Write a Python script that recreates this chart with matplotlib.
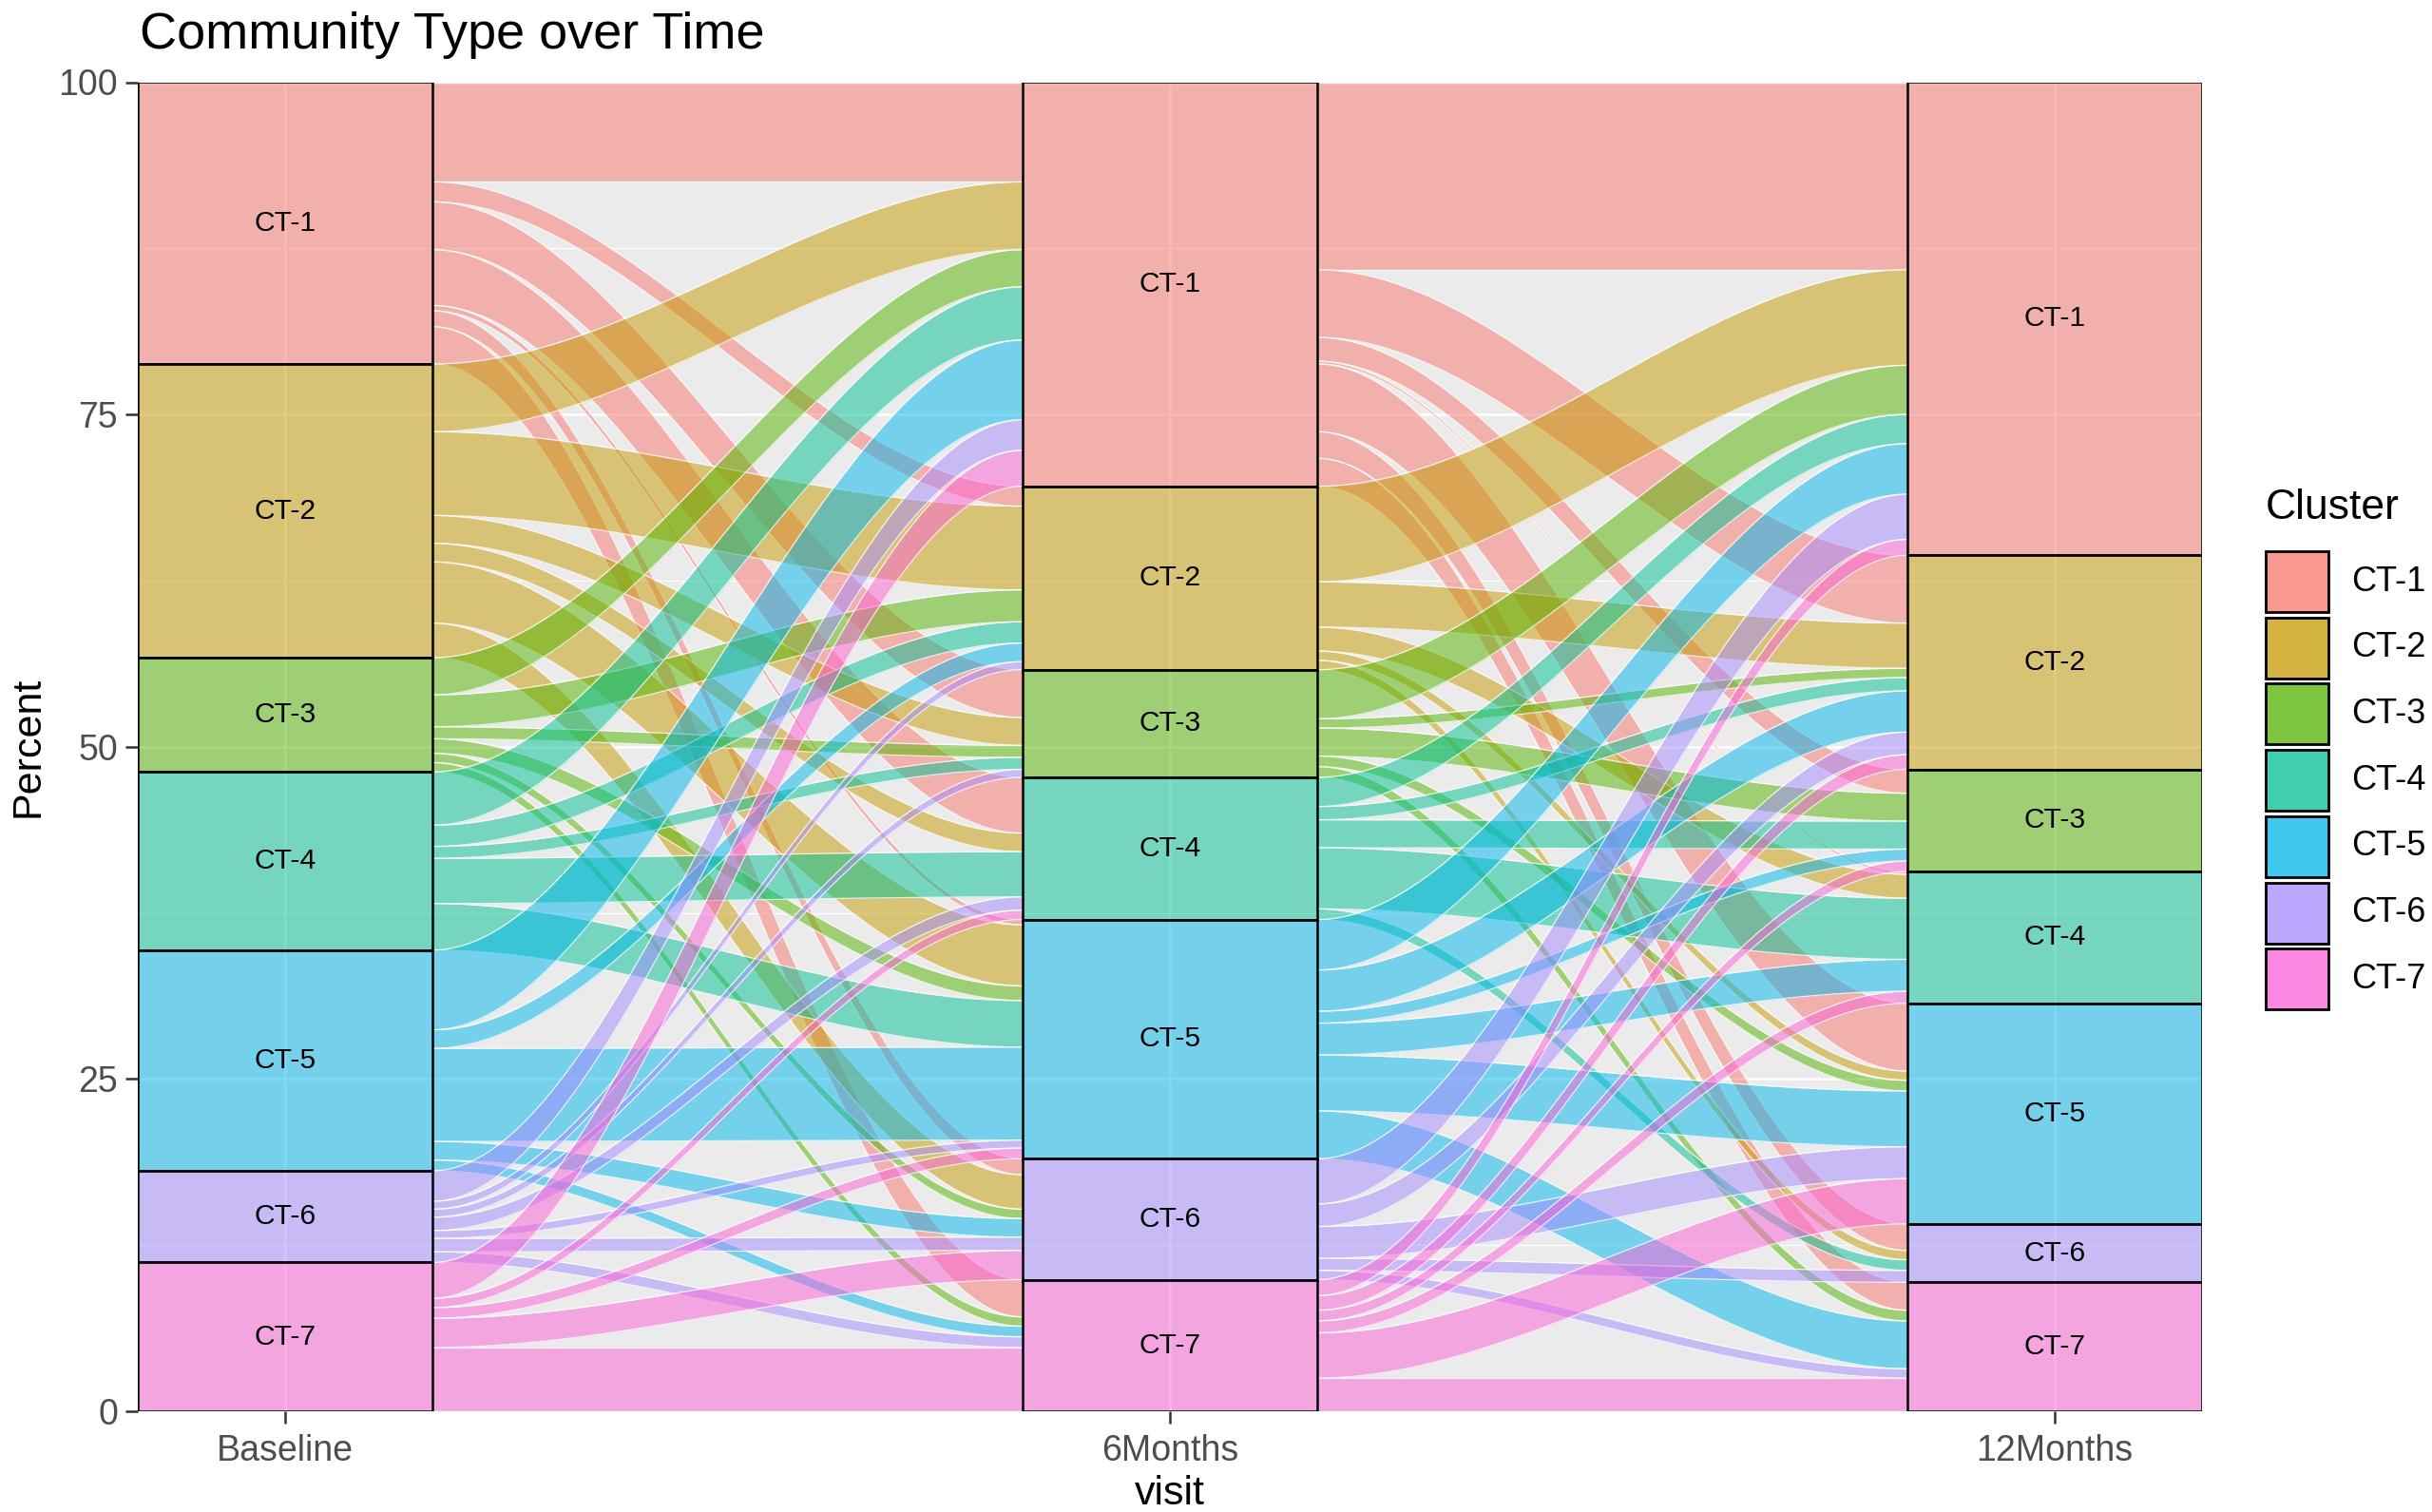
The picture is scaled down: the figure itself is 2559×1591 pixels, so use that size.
import numpy as np
import matplotlib.pyplot as plt
from matplotlib.patches import Rectangle
from matplotlib.colors import to_rgba

plt.rcParams['font.family'] = ['Liberation Sans', 'DejaVu Sans']

# Daten
clusters = ['CT-1', 'CT-2', 'CT-3', 'CT-4', 'CT-5', 'CT-6', 'CT-7']
visits = ['Baseline', '6Months', '12Months']
colors = ['#F8766D', '#C49A00', '#53B400', '#00C094', '#00B6EB', '#A58AFF', '#FB61D7']

# percent of subjects going from cluster (row) at Baseline to cluster (column) at 6Months
base_to_6m = [
    [7.5, 1.5, 3.6, 4.2, 0.4, 1.2, 2.8],
    [5.1, 6.3, 2.1, 1.4, 4.6, 2.6, 0.0],
    [2.8, 2.4, 0.9, 0.0, 1.1, 0.7, 0.7],
    [4.0, 1.6, 0.9, 3.4, 3.5, 0.0, 0.0],
    [6.0, 1.4, 0.0, 0.0, 7.0, 1.4, 0.8],
    [2.3, 0.6, 0.6, 1.0, 0.6, 1.0, 0.8],
    [2.7, 0.0, 0.0, 0.7, 0.8, 2.2, 4.8],
]
# percent of subjects going from cluster (row) at 6Months to cluster (column) at 12Months
m6_to_12m = [
    [14.1, 5.1, 1.8, 0.2, 5.1, 2.0, 2.1],
    [7.2, 3.4, 0.0, 1.8, 0.7, 0.7, 0.0],
    [3.7, 0.7, 2.1, 0.0, 0.8, 0.0, 0.8],
    [2.2, 1.0, 2.1, 4.6, 0.0, 0.8, 0.0],
    [3.8, 3.1, 0.9, 2.4, 4.2, 0.0, 3.6],
    [3.4, 1.7, 0.0, 0.0, 2.4, 0.9, 0.7],
    [1.2, 1.1, 0.8, 0.9, 3.4, 0.0, 2.5],
]

F1 = np.array(base_to_6m)
F2 = np.array(m6_to_12m)
stratum_sizes = [F1.sum(axis=1), F1.sum(axis=0), F2.sum(axis=0)]
half = 1 / 6  # halbe Stratum-Breite

W, H = 2559, 1591
fig = plt.figure(figsize=(W / 200, H / 200), dpi=200)
ax = fig.add_axes([145 / W, 1 - 1485 / H, (2317 - 145) / W, (1485 - 86.5) / H])
ax.set_facecolor('#EBEBEB')
ax.set_xlim(1 - half, 3 + half)
ax.set_ylim(0, 100)
for sp in ax.spines.values():
    sp.set_visible(False)

# Gitter
for y in [12.5, 37.5, 62.5, 87.5]:
    ax.axhline(y, color='white', lw=0.45, zorder=0)
for y in [0, 25, 50, 75, 100]:
    ax.axhline(y, color='white', lw=0.9, zorder=0)
for x in [1, 2, 3]:
    ax.axvline(x, color='white', lw=0.9, zorder=0)


def tops_of(sizes):
    return 100 - np.concatenate([[0], np.cumsum(sizes)[:-1]])


tt = np.linspace(0, 1, 200)
shape = 3 * tt**2 - 2 * tt**3


def draw_flows(F, xa, xb):
    top_left = tops_of(F.sum(axis=1))
    top_right = tops_of(F.sum(axis=0))
    x0, x1 = xa + half, xb - half
    xs = x0 + (x1 - x0) * tt
    n = F.shape[0]
    for i in range(n):
        for j in range(n):
            w = F[i, j]
            if w <= 0:
                continue
            yl = top_left[i] - F[i, :j].sum()
            yr = top_right[j] - F[:i, j].sum()
            top = yl + (yr - yl) * shape
            ax.fill_between(xs, top - w, top, color=colors[i], alpha=0.5, lw=0, zorder=1)
            ax.plot(xs, top, color='white', lw=0.45, alpha=0.8, zorder=1)
            ax.plot(xs, top - w, color='white', lw=0.45, alpha=0.8, zorder=1)


draw_flows(F1, 1, 2)
draw_flows(F2, 2, 3)

# Strata
for k, sizes in enumerate(stratum_sizes):
    xc = k + 1
    tops = tops_of(sizes)
    for i, h in enumerate(sizes):
        ax.add_patch(Rectangle((xc - half, tops[i] - h), 2 * half, h,
                               facecolor=to_rgba(colors[i], 0.5), edgecolor='black',
                               lw=0.9, zorder=3))
        ax.text(xc, tops[i] - h / 2, clusters[i], ha='center', va='center',
                fontsize=10.8, color='black', zorder=4)

ax.set_yticks([0, 25, 50, 75, 100])
ax.set_xticks([1, 2, 3], visits)
ax.tick_params(length=4.7, width=0.9, color='#333333', labelcolor='#4D4D4D',
               labelsize=13.5, pad=2.9)
ax.tick_params(axis='x', pad=4)

ax.set_xlabel('visit', fontsize=15.5)
ax.xaxis.set_label_coords(0.5, -0.0622)
ax.xaxis.label.set_va('center')
ax.set_ylabel('Percent', fontsize=15.5)
ax.yaxis.set_label_coords(-0.0534, 0.5)
ax.yaxis.label.set_va('center')

fig.text(147 / W, 1 - 51 / H, 'Community Type over Time', fontsize=19.5,
         ha='left', va='baseline')

# Legende
fig.text(2384 / W, 1 - 534 / H, 'Cluster', fontsize=16, ha='left', va='center')
key_w, key_h, step = 66, 64, 69.7
for i, name in enumerate(clusters):
    yc = 612 + i * step
    fig.add_artist(Rectangle((2384 / W, 1 - (yc + key_h / 2) / H), key_w / W, key_h / H,
                             transform=fig.transFigure, facecolor=to_rgba(colors[i], 0.75),
                             edgecolor='black', lw=1.0))
    fig.text(2474 / W, 1 - yc / H, name, fontsize=13, ha='left', va='center')

fig.savefig('out.png', dpi=200)
